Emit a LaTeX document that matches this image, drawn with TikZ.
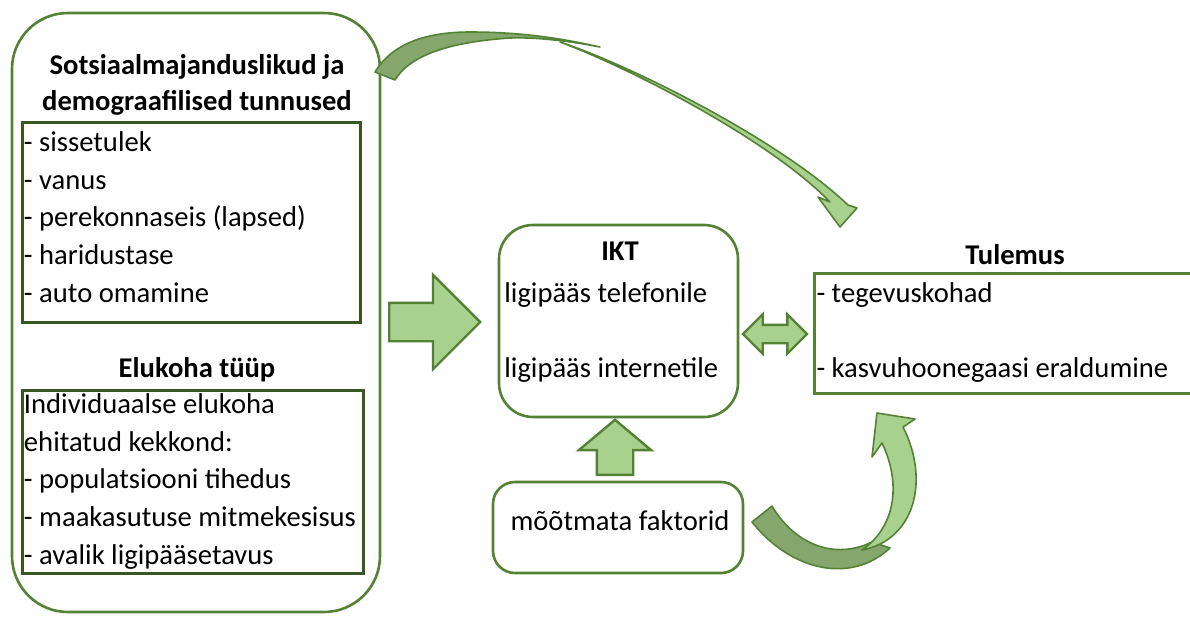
\documentclass[tikz,border=0pt]{standalone}
\usepackage{fontspec}
\setmainfont{Carlito}
\usetikzlibrary{positioning,shapes.arrows}
\definecolor{boxgreen}{RGB}{84,130,53}
\definecolor{listgreen}{RGB}{56,87,35}
\definecolor{arrowfill}{RGB}{169,209,142}
\definecolor{arrowdark}{RGB}{133,166,108}

\begin{document}
\begin{tikzpicture}[x=0.5pt, y=-0.5pt,
    font=\fontsize{14.3}{18.9}\selectfont,
    roundbox/.style={draw=boxgreen, line width=1.3pt},
    listbox/.style={draw=listgreen, line width=1.5pt, align=flush left, inner xsep=1pt, inner ysep=0pt},
    titletext/.style={font=\fontsize{14.3}{18}\selectfont\bfseries, align=center, inner sep=0pt},
    plaintext/.style={inner sep=0pt},
    blockarrow/.style={draw=boxgreen, fill=arrowfill, line width=1.2pt, inner sep=0pt},
    curvearrow/.style={draw=boxgreen, line width=0.8pt, line join=round},]
    \useasboundingbox (0,0) rectangle (1190,617);
    % nodes
    \node[roundbox, rounded corners=28pt, minimum width=184pt, minimum height=299.5pt] (outer) at (196,312.5) {};
    \node[titletext]   (sociotitle)  at (197,85)  {Sotsiaalmajanduslikud ja\\demograafilised tunnused};
    \node[listbox, text width=167pt, minimum height=100pt] (socio) at (191,222)
        {- sissetulek\\- vanus\\- perekonnaseis (lapsed)\\- haridustase\\- auto omamine\vspace{5pt}};
    \node[titletext]   (hometitle)   at (197,370) {Elukoha tüüp};
    \node[listbox, text width=168.5pt, minimum height=91.5pt] (home) at (192.5,481.5)
        {Individuaalse elukoha\\ehitatud kekkond:\\- populatsiooni tihedus\\- maakasutuse mitmekesisus\\- avalik ligipääsetavus};
    \node[roundbox, rounded corners=17pt, minimum width=119.5pt, minimum height=96pt] (ikt) at (618.5,321) {};
    \node[titletext]   (ikttitle)    at (620,251) {IKT};
    \node[plaintext, anchor=west] (phone)    at (504,295) {ligipääs telefonile};
    \node[plaintext, anchor=west] (internet) at (504,370) {ligipääs internetile};
    \node[roundbox, rounded corners=11pt, minimum width=125pt, minimum height=45.5pt] (factors) at (618,527.5) {};
    \node[plaintext]   (factorstext) at (620,521) {mõõtmata faktorid};
    \node[titletext]   (resulttitle) at (1015,255) {Tulemus};
    \node[listbox, draw=boxgreen, text width=190pt, minimum height=60pt] (result) at (1006.5,333)
        {- tegevuskohad\\[18.6pt]- kasvuhoonegaasi eraldumine};
    % arrows
    \node[blockarrow, single arrow, single arrow head extend=14pt, inner ysep=9pt, minimum height=45.5pt, anchor=tail] (arrowin) at (388,322) {};
    \node[blockarrow, double arrow, double arrow head extend=5.25pt, inner ysep=4pt, minimum height=32pt] (arrowboth) at (775,334) {};
    \node[blockarrow, single arrow, single arrow head extend=9pt, single arrow tip angle=100, inner ysep=8.5pt, minimum height=27.5pt, rotate=90, anchor=tail] (arrowup) at (615,476) {};
    % curved arrows
    \filldraw[curvearrow, fill=arrowdark] (375,72) .. controls (392,44) and (425,32) .. (470,32)
        .. controls (520,32) and (560,38) .. (600,47) .. controls (570,41) and (535,37) .. (510,38)
        .. controls (450,42) and (410,55) .. (395,80) -- cycle;
    \filldraw[curvearrow, fill=arrowfill] (560,42) .. controls (630,65) and (780,140) .. (848,205)
        -- (857,208) -- (840,227) -- (818,197) -- (830,202) .. controls (770,140) and (630,68) .. (560,42) -- cycle;
    \filldraw[curvearrow, fill=arrowdark] (752,522) .. controls (790,570) and (850,585) .. (890,548)
        -- (872,542) .. controls (835,560) and (795,545) .. (772,506) -- cycle;
    \filldraw[curvearrow, fill=arrowfill] (862,550) .. controls (915,540) and (930,480) .. (903,427)
        -- (915,419) -- (877,413) -- (872,457) -- (882,443) .. controls (900,480) and (898,525) .. (862,550) -- cycle;
\end{tikzpicture}
\end{document}
